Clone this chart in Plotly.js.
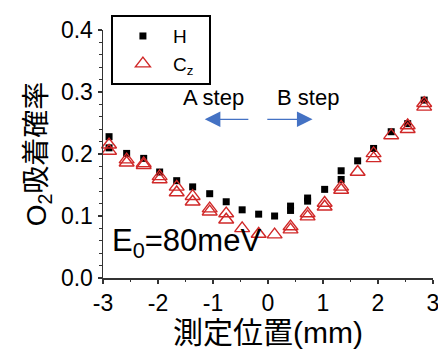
<!DOCTYPE html>
<html>
<head>
<meta charset="utf-8">
<script src="https://cdn.plot.ly/plotly-3.0.1.min.js"></script>
<style>html,body{margin:0;padding:0;background:#fff;}#chart{width:438px;height:353px;}</style>
</head>
<body>
<div id="chart"></div>
<script>
// Measurement positions (mm) and O2 adsorption probabilities
const xH  = [-2.89,-2.89,-2.57,-2.26,-1.97,-1.66,-1.37,-1.06,-0.76,-0.47,-0.17,0.12,0.41,0.41,0.72,0.72,1.03,1.33,1.33,1.63,1.92,2.24,2.54,2.84];
const yH  = [0.228,0.210,0.201,0.193,0.171,0.157,0.147,0.136,0.123,0.110,0.103,0.100,0.116,0.109,0.129,0.124,0.143,0.173,0.159,0.189,0.209,0.236,0.249,0.287];
const xCz = [-2.89,-2.89,-2.57,-2.57,-2.26,-2.26,-1.97,-1.97,-1.66,-1.66,-1.37,-1.37,-1.06,-1.06,-0.76,-0.76,-0.47,-0.17,0.12,0.41,0.41,0.72,0.72,1.03,1.03,1.33,1.33,1.63,1.92,1.92,2.24,2.54,2.54,2.84,2.84];
const yCz = [0.215,0.205,0.191,0.186,0.185,0.182,0.164,0.159,0.147,0.138,0.132,0.123,0.112,0.107,0.104,0.094,0.080,0.071,0.070,0.083,0.078,0.104,0.099,0.121,0.115,0.147,0.142,0.171,0.201,0.193,0.230,0.246,0.240,0.282,0.276];
const xTicks = [-3,-2,-1,0,1,2,3];
const yTicks = [0.0,0.1,0.2,0.3,0.4];
const yTickText = ['0.0','0.1','0.2','0.3','0.4'];

const FONT = 'Liberation Sans, Arial, Noto Sans CJK JP, sans-serif';

const traces = [
  {x: xH, y: yH, name: 'H&nbsp;&nbsp;&nbsp;', type: 'scatter', mode: 'markers', cliponaxis: false,
   marker: {symbol: 'square', size: 7, color: '#000000'}},
  {x: xCz, y: yCz, name: 'C<sub>z</sub>&nbsp;&nbsp;', type: 'scatter', mode: 'markers', cliponaxis: false,
   marker: {symbol: 'triangle-up-open', size: 13, color: '#d02828', line: {width: 1.4, color: '#d02828'}}}
];

const layout = {
  width: 438, height: 353,
  margin: {l: 103, r: 5, t: 30, b: 75},
  paper_bgcolor: '#ffffff', plot_bgcolor: '#ffffff',
  font: {family: FONT, color: '#000000', size: 21},
  showlegend: true,
  legend: {x: 0.024, y: 1.06, xanchor: 'left', yanchor: 'top',
           bordercolor: '#000000', borderwidth: 2, bgcolor: '#ffffff',
           font: {size: 19, family: FONT}, itemwidth: 50},
  xaxis: {range: [-3, 3.0001], tickmode: 'array', tickvals: xTicks, ticktext: xTicks.map(String),
          showgrid: false, zeroline: false, showline: true, linecolor: '#333333', linewidth: 1.5,
          ticks: 'outside', ticklen: 4, tickwidth: 1.2, tickcolor: '#333333',
          ticklabeloverflow: 'allow',
          minor: {dtick: 0.5, ticklen: 2.5, tickcolor: '#333333', tickwidth: 1, ticks: 'outside'},
          tickfont: {size: 23, family: FONT, color: '#000000'},
          title: {text: '測定位置(mm)', font: {size: 30, family: FONT}, standoff: 4}},
  yaxis: {range: [0, 0.4001], tickmode: 'array', tickvals: yTicks, ticktext: yTickText,
          showgrid: false, zeroline: false, showline: true, linecolor: '#333333', linewidth: 1.5,
          ticks: 'outside', ticklen: 4, tickwidth: 1.2, tickcolor: '#333333',
          ticklabeloverflow: 'allow',
          minor: {dtick: 0.02, ticklen: 2.5, tickcolor: '#333333', tickwidth: 1, ticks: 'outside'},
          tickfont: {size: 23, family: FONT, color: '#000000'},
          title: {text: 'O<sub>2</sub>吸着確率', font: {size: 28, family: FONT}, standoff: 6}},
  annotations: [
    {x: -1.0, y: 0.291, xref: 'x', yref: 'y', text: 'A step', showarrow: false, font: {size: 22}},
    {x: 0.72, y: 0.291, xref: 'x', yref: 'y', text: 'B step', showarrow: false, font: {size: 22}},
    {x: -1.15, y: 0.256, ax: -0.33, ay: 0.256, xref: 'x', yref: 'y', axref: 'x', ayref: 'y',
     text: '', showarrow: true, arrowhead: 2, arrowsize: 2.4, arrowwidth: 1.3, arrowcolor: '#4472c4'},
    {x: 0.81, y: 0.256, ax: -0.04, ay: 0.256, xref: 'x', yref: 'y', axref: 'x', ayref: 'y',
     text: '', showarrow: true, arrowhead: 2, arrowsize: 2.4, arrowwidth: 1.3, arrowcolor: '#4472c4'},
    {x: -2.87, y: 0.057, xref: 'x', yref: 'y', xanchor: 'left', text: 'E<sub>0</sub>=80meV',
     showarrow: false, font: {size: 31}}
  ]
};

Plotly.newPlot('chart', traces, layout, {displayModeBar: false, staticPlot: true});
</script>
</body>
</html>
